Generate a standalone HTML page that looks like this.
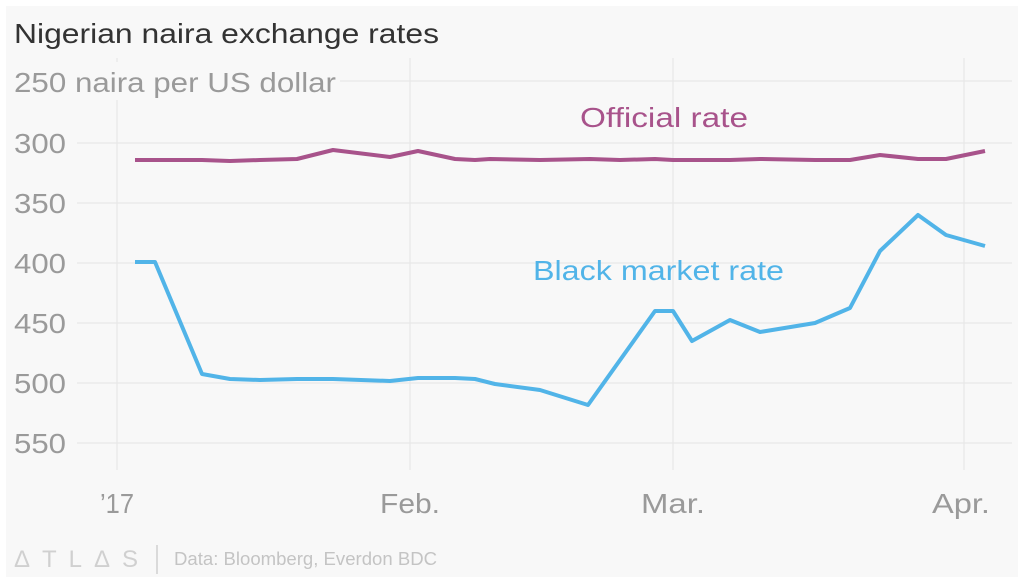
<!DOCTYPE html>
<html><head><style>
body{margin:0;background:#fff;}
svg{display:block;font-family:"Liberation Sans",sans-serif;}
</style></head><body>
<svg width="1024" height="585" viewBox="0 0 1024 585">
<rect x="6" y="6" width="1012" height="571" fill="#f8f8f8"/>
<g stroke="#e8e8e8" stroke-width="1.3">
<line x1="77" y1="81" x2="1012" y2="81"/>
<line x1="77" y1="143" x2="1012" y2="143"/>
<line x1="77" y1="203" x2="1012" y2="203"/>
<line x1="77" y1="263" x2="1012" y2="263"/>
<line x1="77" y1="323" x2="1012" y2="323"/>
<line x1="77" y1="383" x2="1012" y2="383"/>
<line x1="77" y1="443" x2="1012" y2="443"/>
<line x1="117" y1="58" x2="117" y2="470"/>
<line x1="410" y1="58" x2="410" y2="470"/>
<line x1="673" y1="58" x2="673" y2="470"/>
<line x1="964" y1="58" x2="964" y2="470"/>
</g>
<rect x="12" y="62" width="328" height="38" fill="#f8f8f8"/>
<text x="14" y="43" font-size="28" fill="#333" textLength="425" lengthAdjust="spacingAndGlyphs">Nigerian naira exchange rates</text>
<g font-size="28" fill="#9a9a9a">
<text x="14" y="92" textLength="322" lengthAdjust="spacingAndGlyphs">250 naira per US dollar</text>
<text x="14" y="153" textLength="52" lengthAdjust="spacingAndGlyphs">300</text>
<text x="14" y="213" textLength="52" lengthAdjust="spacingAndGlyphs">350</text>
<text x="14" y="273" textLength="52" lengthAdjust="spacingAndGlyphs">400</text>
<text x="14" y="333" textLength="52" lengthAdjust="spacingAndGlyphs">450</text>
<text x="14" y="393" textLength="52" lengthAdjust="spacingAndGlyphs">500</text>
<text x="14" y="453" textLength="52" lengthAdjust="spacingAndGlyphs">550</text>
<text x="100" y="513" textLength="34" lengthAdjust="spacingAndGlyphs">’17</text>
<text x="380" y="513" textLength="60" lengthAdjust="spacingAndGlyphs">Feb.</text>
<text x="641" y="513" textLength="64" lengthAdjust="spacingAndGlyphs">Mar.</text>
<text x="932" y="513" textLength="58" lengthAdjust="spacingAndGlyphs">Apr.</text>
</g>
<text x="580" y="127" font-size="28" fill="#a8538b" textLength="168" lengthAdjust="spacingAndGlyphs">Official rate</text>
<text x="533" y="280" font-size="28" fill="#51b4e8" textLength="251" lengthAdjust="spacingAndGlyphs">Black market rate</text>
<polyline fill="none" stroke="#a8538b" stroke-width="4" stroke-linejoin="round" points="135,160 155,160 202,160 230,161 260,160 297,159 333,150 390,157 418,151 455,159 475,160 490,159 540,160 590,159 620,160 655,159 673,160 730,160 760,159 815,160 850,160 880,155 918,159 946,159 985,151"/>
<polyline fill="none" stroke="#51b4e8" stroke-width="4" stroke-linejoin="round" points="135,262 155,262 202,374 230,379 260,380 297,379 333,379 390,381 418,378 455,378 475,379 495,384 540,390 588,405 655,311 673,311 692,341 730,320 760,332 815,323 850,308 880,251 918,215 946,235 985,246"/>
<text x="14" y="567" font-size="24" fill="#d0d0d0" textLength="124" lengthAdjust="spacing">ΔTLΔS</text>
<line x1="157" y1="545" x2="157" y2="574" stroke="#d0d0d0" stroke-width="1.5"/>
<text x="174" y="565" font-size="18" fill="#c4c4c4" textLength="263" lengthAdjust="spacingAndGlyphs">Data: Bloomberg, Everdon BDC</text>
</svg>
</body></html>
